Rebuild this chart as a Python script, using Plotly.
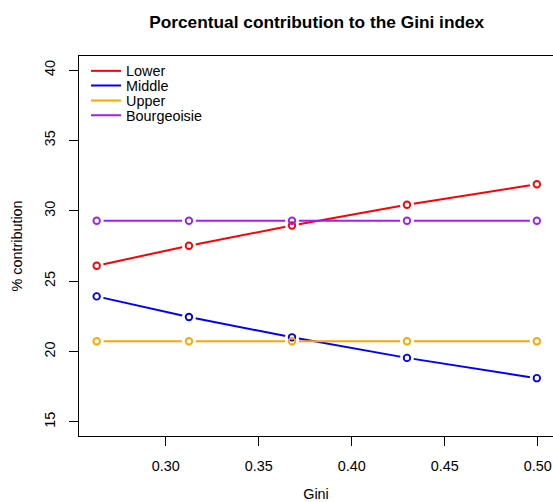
import plotly.graph_objects as go

# ---- data ----
gini = [0.2629, 0.3125, 0.3679, 0.4297, 0.4995]
lower = [26.10, 27.52, 28.96, 30.43, 31.89]
middle = [23.92, 22.46, 21.01, 19.55, 18.11]
upper = [20.73, 20.73, 20.73, 20.73, 20.73]
bourgeoisie = [29.29, 29.29, 29.29, 29.29, 29.29]

series_names = ["Lower", "Middle", "Upper", "Bourgeoisie"]
series_values = [lower, middle, upper, bourgeoisie]
series_colors = ["#FF0000", "#0000FF", "#FFA500", "#A020F0"]

x_ticks = [0.30, 0.35, 0.40, 0.45, 0.50]
y_ticks = [15, 20, 25, 30, 35, 40]

FONT = "Liberation Sans, Arial, Helvetica, sans-serif"
FS = 14.4

fig = go.Figure()

legend_ids = ["legend", "legend2", "legend3", "legend4"]

# lines (with legend entries)
for name, vals, col, lg in zip(series_names, series_values, series_colors, legend_ids):
    fig.add_trace(go.Scatter(x=gini, y=vals, mode="lines", name=name,
                             line=dict(color=col, width=2),
                             legend=lg, showlegend=True, hoverinfo="skip"))
# white masks to mimic R type="b" gaps
for name, vals, col in zip(series_names, series_values, series_colors):
    fig.add_trace(go.Scatter(x=gini, y=vals, mode="markers", showlegend=False,
                             marker=dict(symbol="circle", size=14, color="white",
                                         line=dict(width=0)),
                             hoverinfo="skip"))
# open circles
for name, vals, col in zip(series_names, series_values, series_colors):
    fig.add_trace(go.Scatter(x=gini, y=vals, mode="markers", name=name, showlegend=False,
                             marker=dict(symbol="circle-open", size=6.5, color=col,
                                         line=dict(width=1.9, color=col))))

plot_left = 79
plot_top, plot_bottom = 56, 436
H = 502
W = 553


def legend_y(pix):
    return (plot_bottom - pix) / (plot_bottom - plot_top)


legend_rows = [71, 85.7, 100.7, 115.3]
legends = {}
for lg, row in zip(legend_ids, legend_rows):
    legends[lg] = dict(x=(86 - plot_left) / (W - plot_left), xanchor="left",
                       y=legend_y(row), yanchor="middle",
                       bgcolor="rgba(0,0,0,0)", borderwidth=0,
                       font=dict(family=FONT, size=FS, color="black"),
                       itemwidth=30, tracegroupgap=0)

axis_common = dict(showline=True, linecolor="black", linewidth=1,
                   ticks="outside", ticklen=9, tickwidth=1, tickcolor="black",
                   showgrid=False, zeroline=False, automargin=False,
                   tickfont=dict(family=FONT, size=FS, color="black"))

fig.update_layout(
    template="none",
    width=W, height=H, autosize=False,
    margin=dict(l=plot_left, r=0, t=plot_top, b=H - plot_bottom, pad=0),
    paper_bgcolor="white", plot_bgcolor="white",
    font=dict(family=FONT, size=FS, color="black"),
    title=dict(text="Porcentual contribution to the Gini index",
               font=dict(family=FONT, size=17.3, color="black", weight="bold"),
               x=316.7 / W, xanchor="center", xref="container",
               y=1 - 21.7 / H, yanchor="middle", yref="container"),
    xaxis=dict(range=[0.2534, 0.5082], tickvals=x_ticks, tickformat=".2f",
               mirror=True, ticklabelstandoff=8,
               title=dict(text="Gini", font=dict(family=FONT, size=FS, color="black"),
                          standoff=22),
               **axis_common),
    yaxis=dict(range=[14.0, 41.0], tickvals=y_ticks, tickangle=-90,
               ticklabelstandoff=8,
               title=dict(text="% contribution", font=dict(family=FONT, size=FS, color="black"),
                          standoff=16),
               **axis_common),
    showlegend=True,
    **legends,
)

fig.write_html("out.html",
               config={"displayModeBar": False},
               post_script="document.body.style.margin='0';document.body.style.overflow='hidden';")
